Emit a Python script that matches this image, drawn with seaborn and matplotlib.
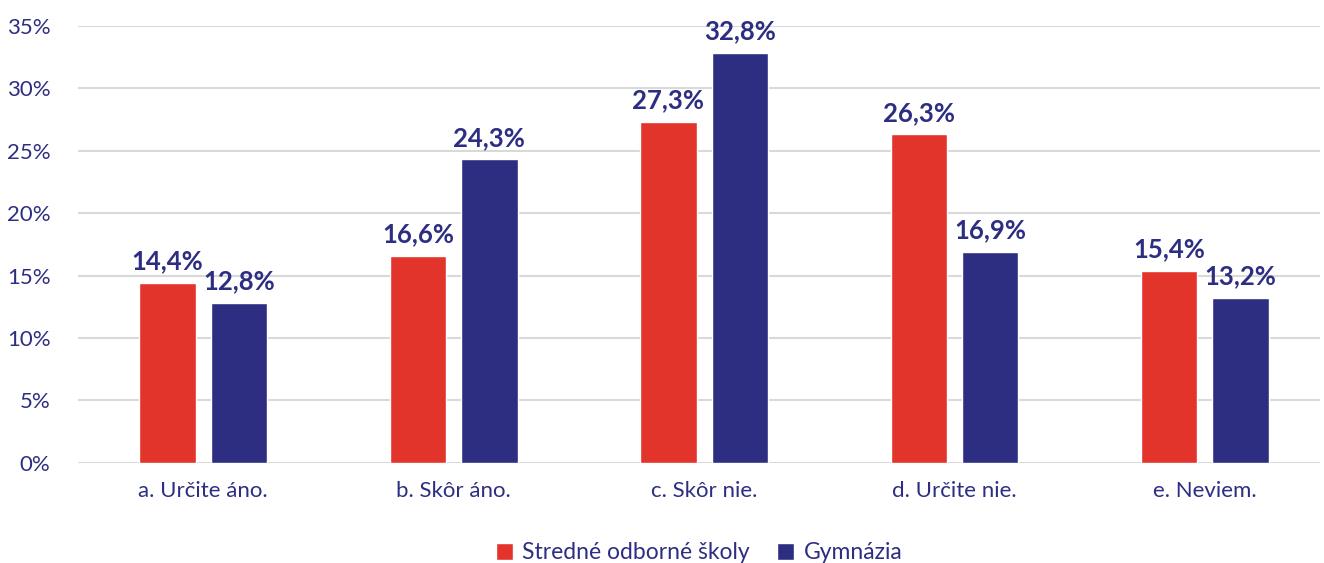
import pandas as pd
import matplotlib.pyplot as plt
import seaborn as sns
from matplotlib.ticker import FuncFormatter

# hodnoty z grafu
kategorie = ['a. Určite áno.', 'b. Skôr áno.', 'c. Skôr nie.', 'd. Určite nie.', 'e. Neviem.']
skupiny = ['Stredné odborné školy', 'Gymnázia']
sos = [14.4, 16.6, 27.3, 26.3, 15.4]
gym = [12.8, 24.3, 32.8, 16.9, 13.2]

cervena = '#E3342B'
modra = '#2D2E82'

df = pd.DataFrame({
    'kategoria': kategorie * 2,
    'skupina': [skupiny[0]] * 5 + [skupiny[1]] * 5,
    'hodnota': sos + gym,
})

sns.set_style('white')
plt.rcParams['font.family'] = ['Lato', 'DejaVu Sans']

fig = plt.figure(figsize=(13.24, 5.63), dpi=100)
ax = fig.add_axes([0.059, 0.178, 0.938, 0.776])

sns.barplot(data=df, x='kategoria', y='hodnota', hue='skupina',
            palette=[cervena, modra], width=0.57, gap=0.21,
            saturation=1, ax=ax, zorder=3)

# popisky nad stlpcami
for cont in ax.containers:
    ax.bar_label(cont, labels=[f'{v:.1f}%'.replace('.', ',') for v in cont.datavalues],
                 padding=7, fontsize=18.5, fontweight='bold', color=modra)

ax.set_ylim(0, 35)
ax.set_xlim(-0.5, 4.46)
ax.set_yticks(range(0, 36, 5))
ax.yaxis.set_major_formatter(FuncFormatter(lambda x, _: f'{int(x)}%'))
ax.grid(axis='y', color='#D9D9D9', linewidth=1.5, zorder=0)
ax.set_xlabel('')
ax.set_ylabel('')
ax.tick_params(axis='both', length=0, labelsize=16, labelcolor=modra)
ax.tick_params(axis='x', pad=13)
ax.tick_params(axis='y', pad=20)
for s in ax.spines.values():
    s.set_visible(False)

ax.legend(loc='upper center', bbox_to_anchor=(0.5, -0.135), ncol=2, frameon=False,
          fontsize=16.5, labelcolor=modra, handlelength=0.75, handleheight=0.75,
          handletextpad=0.4, columnspacing=1.2)

fig.savefig('out.png', dpi=100)
